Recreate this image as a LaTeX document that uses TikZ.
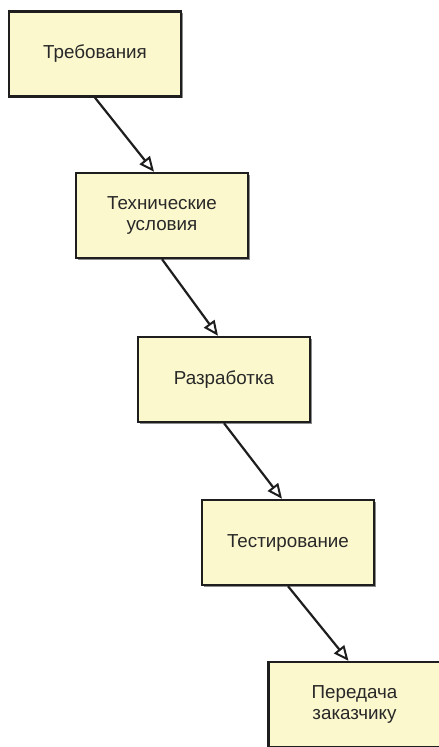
\documentclass[tikz,border=0pt]{standalone}
\usepackage{fontspec}
\setmainfont{Liberation Sans}
\usetikzlibrary{arrows.meta,shadows}
\definecolor{boxfill}{RGB}{252,248,206}
\definecolor{boxline}{RGB}{30,30,30}
\definecolor{txt}{RGB}{40,40,40}
\begin{document}
\begin{tikzpicture}[x=1pt,y=-1pt,
  stage/.style={draw=boxline, line width=2.4pt, fill=boxfill, minimum width=172pt, minimum height=85pt,
    inner sep=0pt, align=center, text=txt, font=\fontsize{18.8}{21.5}\selectfont,
    drop shadow={shadow xshift=1.5pt, shadow yshift=-1.5pt, fill=black!45, opacity=1}},
  flow/.style={draw=boxline, line width=2.2pt, -{Triangle[open, length=15pt, width=13pt, line width=2pt]}}]
\useasboundingbox (0,0) rectangle (439,747);
\node[stage] (req) at (95,54) {Требования};
\node[stage] (spec) at (162,215.5) {Технические\\условия};
\node[stage] (dev) at (224,379.5) {Разработка};
\node[stage] (test) at (288,542.5) {Тестирование};
\node[stage] (deliv) at (354.5,704.5) {Передача\\заказчику};
\draw[flow] (req.south) -- ([xshift=-8pt]spec.north);
\draw[flow] (spec.south) -- ([xshift=-6pt]dev.north);
\draw[flow] (dev.south) -- ([xshift=-6pt]test.north);
\draw[flow] (test.south) -- ([xshift=-6pt]deliv.north);
\end{tikzpicture}
\end{document}
